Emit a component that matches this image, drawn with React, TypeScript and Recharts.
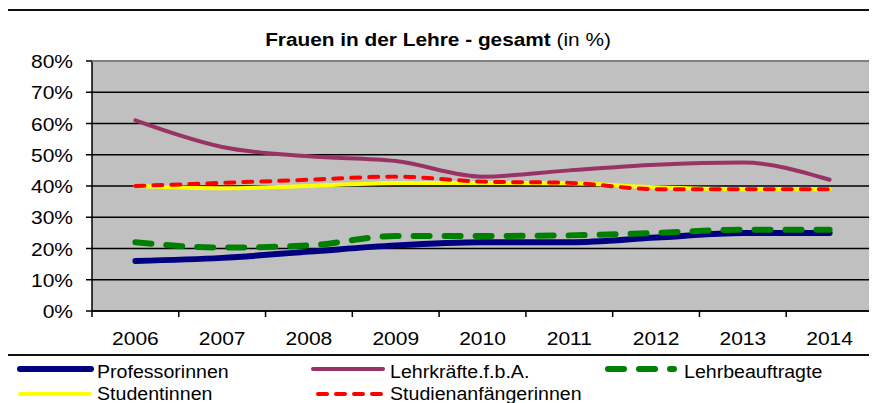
import React from 'react';
import { LineChart, Line, XAxis, YAxis, CartesianGrid } from 'recharts';

const years = ['2006', '2007', '2008', '2009', '2010', '2011', '2012', '2013', '2014'];
const professorinnen = [16, 17, 19, 21, 22, 22, 23.5, 25, 25];
const lehrkraefte = [61, 52.5, 49.5, 48, 43, 45, 46.8, 47.5, 42];
const lehrbeauftragte = [22, 20.3, 21, 24, 24, 24.2, 25, 26, 26];
const studentinnen = [40, 39.3, 40, 41, 41, 40.9, 39.6, 39, 39];
const studienanfaengerinnen = [40, 41, 42, 43, 41.4, 41, 39, 39, 39];
const yTicks = [0, 10, 20, 30, 40, 50, 60, 70, 80];
const titleBold = 'Frauen in der Lehre - gesamt';
const titleNormal = '(in %)';

const series = [
  { key: 'professorinnen', name: 'Professorinnen', values: professorinnen, color: '#000080', width: 6, dash: undefined as string | undefined },
  { key: 'lehrkraefte', name: 'Lehrkräfte.f.b.A.', values: lehrkraefte, color: '#993366', width: 4, dash: undefined as string | undefined },
  { key: 'lehrbeauftragte', name: 'Lehrbeauftragte', values: lehrbeauftragte, color: '#008000', width: 6, dash: '16 15' },
  { key: 'studentinnen', name: 'Studentinnen', values: studentinnen, color: '#FFFF00', width: 4, dash: undefined as string | undefined },
  { key: 'studienanfaengerinnen', name: 'Studienanfängerinnen', values: studienanfaengerinnen, color: '#FF0000', width: 4, dash: '9 9' },
];

const data = years.map((year, i) => {
  const row: Record<string, string | number> = { year };
  series.forEach((s) => {
    row[s.key] = s.values[i];
  });
  return row;
});

const W = 877;
const H = 403;
const PLOT_LEFT = 92;
const PLOT_RIGHT = 873;
const PLOT_TOP = 61;
const PLOT_BOTTOM = 311;
const STEP = (PLOT_RIGHT - PLOT_LEFT) / years.length;
const FONT = '"Liberation Sans", Arial, sans-serif';

// legend layout: [x line start, x line end, x text, row]
const legendLayout = [
  { x1: 20, x2: 91, tx: 97, row: 0 },
  { x1: 313, x2: 383, tx: 390, row: 0 },
  { x1: 608, x2: 674, tx: 684, row: 0 },
  { x1: 20, x2: 90, tx: 97, row: 1 },
  { x1: 318, x2: 383, tx: 390, row: 1 },
];
const legendRowLineY = [369, 394];
const legendRowTextY = [378, 400];

const XTick = (props: any) => {
  const { x, payload, index } = props;
  const half = STEP / 2;
  return (
    <g>
      <line x1={x - half} x2={x - half} y1={PLOT_BOTTOM} y2={PLOT_BOTTOM + 6} stroke="#000" strokeWidth={1.5} />
      {index === years.length - 1 && (
        <line x1={x + half} x2={x + half} y1={PLOT_BOTTOM} y2={PLOT_BOTTOM + 6} stroke="#000" strokeWidth={1.5} />
      )}
      <text
        transform={`translate(${x},345) scale(1.2,1)`}
        x={0}
        y={0}
        textAnchor="middle"
        fontFamily={FONT}
        fontSize={17.5}
        fill="#000"
      >
        {payload.value}
      </text>
    </g>
  );
};

const YTick = (props: any) => {
  const { y, payload } = props;
  return (
    <text
      transform={`translate(${PLOT_LEFT - 19},${y + 7}) scale(1.2,1)`}
      x={0}
      y={0}
      textAnchor="end"
      fontFamily={FONT}
      fontSize={17.5}
      fill="#000"
    >
      {`${payload.value}%`}
    </text>
  );
};

export default function App() {
  return (
    <div
      style={{
        position: 'relative',
        width: W,
        height: H,
        marginLeft: -8,
        marginTop: -8,
        overflow: 'hidden',
        background: '#fff',
      }}
    >
      <div style={{ position: 'absolute', left: 0, top: 0 }}>
        <LineChart
          width={W}
          height={355}
          data={data}
          margin={{ top: PLOT_TOP, right: W - PLOT_RIGHT, left: 0, bottom: 0 }}
        >
          <CartesianGrid
            vertical={false}
            fill="#C0C0C0"
            fillOpacity={1}
            stroke="#000"
            strokeWidth={1.5}
          />
          <XAxis
            dataKey="year"
            height={355 - PLOT_BOTTOM}
            padding={{ left: STEP / 2, right: STEP / 2 }}
            axisLine={{ stroke: '#000', strokeWidth: 1.5 }}
            tickLine={false}
            tick={XTick}
            interval={0}
          />
          <YAxis
            width={PLOT_LEFT}
            domain={[0, 80]}
            ticks={yTicks}
            interval={0}
            axisLine={{ stroke: '#000', strokeWidth: 1.5 }}
            tickLine={{ stroke: '#000', strokeWidth: 1.5 }}
            tickSize={6}
            tick={YTick}
          />
          {series.map((s) => (
            <Line
              key={s.key}
              dataKey={s.key}
              name={s.name}
              type="monotone"
              stroke={s.color}
              strokeWidth={s.width}
              strokeDasharray={s.dash}
              strokeLinecap="round"
              dot={false}
              activeDot={false}
              isAnimationActive={false}
            />
          ))}
        </LineChart>
      </div>
      <svg
        width={W}
        height={H}
        style={{ position: 'absolute', left: 0, top: 0, pointerEvents: 'none' }}
      >
        <polyline
          points={`${PLOT_LEFT},${PLOT_TOP} ${PLOT_RIGHT},${PLOT_TOP} ${PLOT_RIGHT},${PLOT_BOTTOM}`}
          fill="none"
          stroke="#808080"
          strokeWidth={2}
        />
        <rect x={7} y={10} width={W + 20} height={H + 20} fill="none" stroke="#111" strokeWidth={2} />
        <line x1={7} x2={W + 5} y1={355} y2={355} stroke="#111" strokeWidth={2} />
        <text
          transform="translate(438,45.5) scale(1.19,1)"
          textAnchor="middle"
          fontFamily={FONT}
          fontSize={17.5}
          fill="#000"
        >
          <tspan fontWeight="bold">{titleBold}</tspan>
          <tspan> {titleNormal}</tspan>
        </text>
        {series.map((s, i) => {
          const l = legendLayout[i];
          const ly = legendRowLineY[l.row];
          const ty = legendRowTextY[l.row];
          return (
            <g key={s.key}>
              <line
                x1={l.x1}
                x2={l.x2}
                y1={ly}
                y2={ly}
                stroke={s.color}
                strokeWidth={s.width}
                strokeDasharray={s.dash}
                strokeLinecap="round"
              />
              <text
                transform={`translate(${l.tx},${ty}) scale(1.12,1)`}
                fontFamily={FONT}
                fontSize={17.5}
                fill="#000"
              >
                {s.name}
              </text>
            </g>
          );
        })}
      </svg>
    </div>
  );
}
